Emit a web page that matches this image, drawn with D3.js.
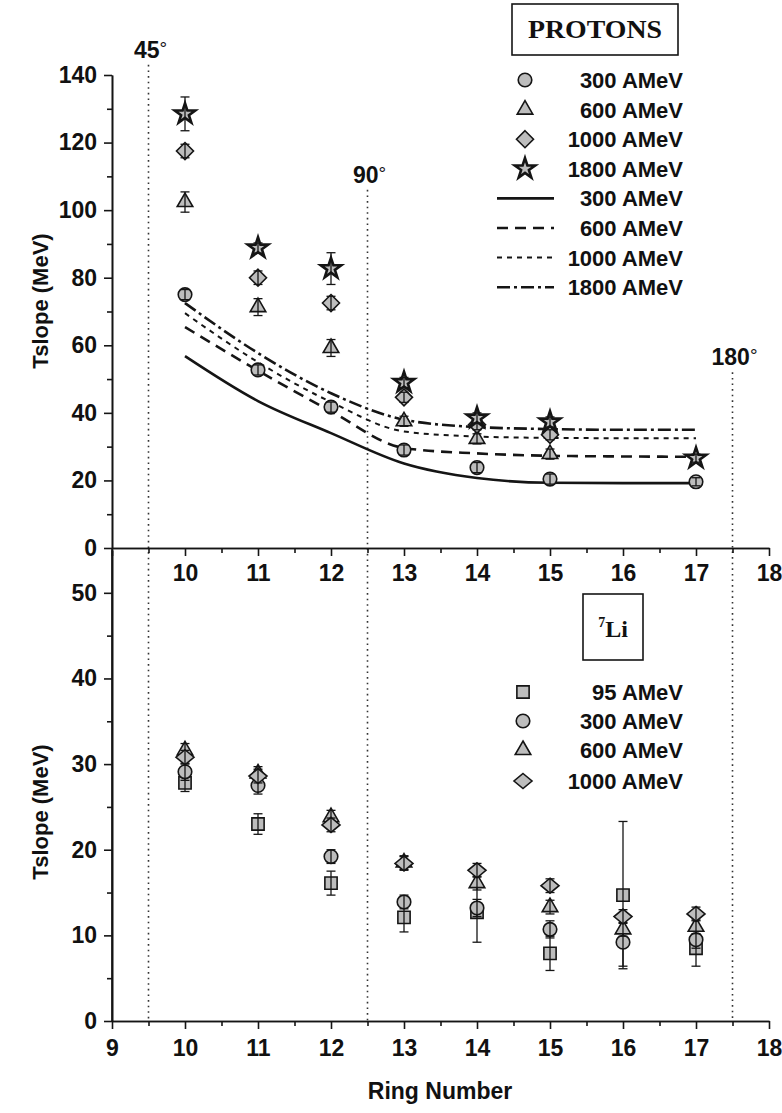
<!DOCTYPE html>
<html>
<head>
<meta charset="utf-8">
<script src="https://cdn.jsdelivr.net/npm/d3@7"></script>
<style>
body { margin: 0; background: #fff; }
svg text { font-family: "Liberation Sans", Arial, sans-serif; font-weight: bold; fill: #111; }
</style>
</head>
<body>
<svg id="chart" width="782" height="1113"></svg>
<script>
// ---- data ----
// protons, measured
var pRings300 = [10, 11, 12, 13, 14, 15, 17];
var p300 = [75, 52.7, 41.7, 29, 23.8, 20.4, 19.6];
var p300Err = [1.5, 1.5, 1.5, 1.5, 1.5, 1.5, 1.2];
var pRings600 = [10, 11, 12, 13, 14, 15];
var p600 = [102.4, 71.3, 59.2, 37.5, 32.3, 27.8];
var p600Err = [3, 2.5, 2.5, 1.5, 1.5, 1.5];
var pRings1000 = [10, 11, 12, 13, 14, 15];
var p1000 = [117.5, 80, 72.5, 44.6, 36.5, 33.5];
var p1000Err = [2, 2, 2, 1.5, 1.5, 1.5];
var pRings1800 = [10, 11, 12, 13, 14, 15, 17];
var p1800 = [128.5, 88.8, 82.7, 49, 38.5, 37.3, 26.6];
var p1800Err = [5, 1.5, 4.7, 1.5, 1.5, 1.5, 1.2];

// protons, calculation (lines)
var calcRings = [10, 11, 12, 13, 14, 15, 16, 17];
var calc300 = [56.8, 43.5, 34, 25, 20.7, 19.3, 19.2, 19.2];
var calc600 = [65.4, 52.5, 40.5, 29.6, 28, 27.3, 27.1, 27];
var calc1000 = [69.5, 55, 43.2, 34.5, 33, 32.6, 32.5, 32.5];
var calc1800 = [72.5, 57.7, 45.8, 38, 35.8, 35.2, 35, 35];

// 7Li
var liRings = [10, 11, 12, 13, 14, 15, 16, 17];
var li95 = [27.8, 23, 16.1, 12.1, 12.7, 7.9, 14.7, 8.5];
var li95Err = [1, 1.2, 1.4, 1.7, 3.5, 2, 8.6, 2.1];
var li300 = [29.1, 27.5, 19.2, 13.9, 13.2, 10.7, 9.2, 9.5];
var li300Err = [1, 1, 0.8, 0.8, 1, 1, 2.8, 1];
var li600 = [31.6, 28.9, 23.8, 18.5, 16.1, 13.3, 10.7, 11];
var li600Err = [0.8, 0.8, 0.8, 0.8, 0.8, 0.8, 0.8, 0.8];
var li1000 = [30.8, 28.6, 22.9, 18.4, 17.6, 15.8, 12.2, 12.5];
var li1000Err = [0.8, 0.8, 0.8, 0.8, 0.8, 0.8, 0.8, 0.8];

// axes
var xTicks = [9, 10, 11, 12, 13, 14, 15, 16, 17, 18];
var xMinor = [9.5, 10.5, 11.5, 12.5, 13.5, 14.5, 15.5, 16.5, 17.5];
var topYTicks = [0, 20, 40, 60, 80, 100, 120, 140];
var topYMinor = [10, 30, 50, 70, 90, 110, 130];
var botYTicks = [0, 10, 20, 30, 40, 50];
var botYMinor = [5, 15, 25, 35, 45];

// angle markers (ring, label, top of dotted line in proton-panel units)
var angleRings = [9.5, 12.5, 17.5];
var angleLabels = ["45", "90", "180"];
var angleTops = [143, 106, 52];

var protonLegend = ["300 AMeV", "600 AMeV", "1000 AMeV", "1800 AMeV"];
var liLegend = ["95 AMeV", "300 AMeV", "600 AMeV", "1000 AMeV"];

// ---- layout ----
var svg = d3.select("#chart");
var x = d3.scaleLinear().domain([9, 18]).range([112, 769]);
var yTop = d3.scaleLinear().domain([0, 140]).range([548, 75]);
var yBot = d3.scaleLinear().domain([0, 55]).range([1021, 550]);

var ink = "#151515";
var markFill = "#bdbdbd";

// symbols
var circleSym = d3.symbol().type(d3.symbolCircle).size(Math.PI * 46);
var triSym = d3.symbol().type(d3.symbolTriangle).size(105);
var starSym = d3.symbol().type(d3.symbolStar).size(130);
var squareSym = d3.symbol().type(d3.symbolSquare).size(150);
var diamondTop = "M0,-8.5L8.5,0L0,8.5L-8.5,0Z";
var diamondBot = "M0,-7.5L9,0L0,7.5L-9,0Z";

// dotted angle lines
angleRings.forEach(function (r, i) {
    svg.append("line")
        .attr("x1", x(r)).attr("x2", x(r))
        .attr("y1", yTop(angleTops[i])).attr("y2", yBot(0))
        .attr("stroke", "#333").attr("stroke-width", 1.6)
        .attr("stroke-dasharray", "1.6,4");
    var t = svg.append("text")
        .attr("x", x(r) + 2).attr("y", yTop(angleTops[i]) - 7)
        .attr("text-anchor", "middle")
        .style("font-size", "23px");
    t.append("tspan").text(angleLabels[i]);
    t.append("tspan").attr("dy", -3).style("font-size", "19px").style("font-weight", "normal").text("°");
});

// axes helper
function styleAxis(g) {
    g.selectAll("path, line").attr("stroke", ink).attr("stroke-width", 1.6);
    g.selectAll("text").style("font-size", "23px").attr("fill", ink);
}

// top panel y axis
svg.append("g").attr("transform", "translate(112,0)")
    .call(d3.axisLeft(yTop).tickValues(topYTicks).tickSize(8).tickPadding(7).tickSizeOuter(0))
    .call(styleAxis);
svg.append("g").attr("transform", "translate(112,0)")
    .call(d3.axisLeft(yTop).tickValues(topYMinor).tickSize(5).tickFormat("").tickSizeOuter(0))
    .call(styleAxis);
// top panel x axis
svg.append("g").attr("transform", "translate(0,548)")
    .call(d3.axisBottom(x).tickValues(xTicks).tickSize(8).tickPadding(9).tickSizeOuter(0)
        .tickFormat(function (d) { return d == 9 ? "" : d; }))
    .call(styleAxis);
svg.append("g").attr("transform", "translate(0,548)")
    .call(d3.axisBottom(x).tickValues(xMinor).tickSize(5).tickFormat("").tickSizeOuter(0))
    .call(styleAxis);

// bottom panel y axis
svg.append("g").attr("transform", "translate(112,0)")
    .call(d3.axisLeft(yBot).tickValues(botYTicks).tickSize(8).tickPadding(7).tickSizeOuter(0))
    .call(styleAxis);
svg.append("g").attr("transform", "translate(112,0)")
    .call(d3.axisLeft(yBot).tickValues(botYMinor).tickSize(5).tickFormat("").tickSizeOuter(0))
    .call(styleAxis);
svg.append("line").attr("x1", 112).attr("x2", 112).attr("y1", 548).attr("y2", 1021)
    .attr("stroke", ink).attr("stroke-width", 1.6);
// bottom panel x axis
svg.append("g").attr("transform", "translate(0,1021)")
    .call(d3.axisBottom(x).tickValues(xTicks).tickSize(8).tickPadding(11).tickSizeOuter(0))
    .call(styleAxis);
svg.append("g").attr("transform", "translate(0,1021)")
    .call(d3.axisBottom(x).tickValues(xMinor).tickSize(5).tickFormat("").tickSizeOuter(0))
    .call(styleAxis);

// axis titles
svg.append("text").attr("transform", "translate(48,301) rotate(-90)")
    .attr("text-anchor", "middle").style("font-size", "22px").text("Tslope (MeV)");
svg.append("text").attr("transform", "translate(48,812) rotate(-90)")
    .attr("text-anchor", "middle").style("font-size", "22px").text("Tslope (MeV)");
svg.append("text").attr("x", 440).attr("y", 1099)
    .attr("text-anchor", "middle").style("font-size", "23px").text("Ring Number");

// calculation lines
var dashes = [null, "11,7", "5,5", "13,4,3,4"];
var calcSets = [calc300, calc600, calc1000, calc1800];
var lineGen = d3.line().curve(d3.curveMonotoneX)
    .x(function (d) { return x(d[0]); })
    .y(function (d) { return yTop(d[1]); });
calcSets.forEach(function (vals, i) {
    svg.append("path")
        .attr("d", lineGen(calcRings.map(function (r, k) { return [r, vals[k]]; })))
        .attr("fill", "none").attr("stroke", ink)
        .attr("stroke-width", i == 2 ? 2 : 2.6)
        .attr("stroke-dasharray", dashes[i]);
});

// markers + error bars
function drawSeries(rings, vals, errs, yScale, shape, strokeW) {
    var g = svg.append("g");
    g.selectAll("path.m").data(rings).enter().append("path")
        .attr("class", "m")
        .attr("transform", function (r, k) { return "translate(" + x(r) + "," + yScale(vals[k]) + ")"; })
        .attr("d", shape)
        .attr("fill", markFill).attr("stroke", ink).attr("stroke-width", strokeW);
    rings.forEach(function (r, k) {
        var cx = x(r), lo = yScale(vals[k] - errs[k]), hi = yScale(vals[k] + errs[k]);
        g.append("line").attr("x1", cx).attr("x2", cx).attr("y1", lo).attr("y2", hi)
            .attr("stroke", ink).attr("stroke-width", 1.3);
        [lo, hi].forEach(function (yy) {
            g.append("line").attr("x1", cx - 4.5).attr("x2", cx + 4.5).attr("y1", yy).attr("y2", yy)
                .attr("stroke", ink).attr("stroke-width", 1.3);
        });
    });
}
drawSeries(pRings300, p300, p300Err, yTop, circleSym(), 1.6);
drawSeries(pRings600, p600, p600Err, yTop, triSym(), 1.6);
drawSeries(pRings1000, p1000, p1000Err, yTop, diamondTop, 1.6);
drawSeries(pRings1800, p1800, p1800Err, yTop, starSym(), 2.6);

drawSeries(liRings, li95, li95Err, yBot, squareSym(), 1.6);
drawSeries(liRings, li300, li300Err, yBot, circleSym(), 1.6);
drawSeries(liRings, li600, li600Err, yBot, triSym(), 1.6);
drawSeries(liRings, li1000, li1000Err, yBot, diamondBot, 1.6);

// ---- proton legend ----
svg.append("rect").attr("x", 512).attr("y", 4).attr("width", 166).attr("height", 51)
    .attr("fill", "none").attr("stroke", ink).attr("stroke-width", 1.6);
svg.append("text").attr("x", 595).attr("y", 38).attr("text-anchor", "middle")
    .style("font-family", "'Liberation Serif', 'Times New Roman', serif")
    .style("font-size", "25px").attr("textLength", 134).attr("lengthAdjust", "spacingAndGlyphs")
    .text("PROTONS");
var pShapes = [circleSym(), triSym(), diamondTop, starSym()];
var rowY = function (i) { return 80 + i * 29.6; };
protonLegend.forEach(function (lab, i) {
    svg.append("path").attr("transform", "translate(525," + rowY(i) + ")")
        .attr("d", pShapes[i]).attr("fill", markFill).attr("stroke", ink)
        .attr("stroke-width", i == 3 ? 2.6 : 1.6);
    svg.append("text").attr("x", 683).attr("y", rowY(i) + 8).attr("text-anchor", "end")
        .style("font-size", "22px").text(lab);
});
protonLegend.forEach(function (lab, i) {
    var yy = rowY(i + 4);
    svg.append("line").attr("x1", 497).attr("x2", 554).attr("y1", yy).attr("y2", yy)
        .attr("stroke", ink).attr("stroke-width", i == 2 ? 2 : 2.6)
        .attr("stroke-dasharray", dashes[i]);
    svg.append("text").attr("x", 683).attr("y", yy + 8).attr("text-anchor", "end")
        .style("font-size", "22px").text(lab);
});

// ---- 7Li legend ----
svg.append("rect").attr("x", 583).attr("y", 594).attr("width", 60).attr("height", 66)
    .attr("fill", "none").attr("stroke", ink).attr("stroke-width", 1.6);
var liTitle = svg.append("text").attr("x", 613).attr("y", 637).attr("text-anchor", "middle")
    .style("font-family", "'Liberation Serif', 'Times New Roman', serif");
liTitle.append("tspan").attr("dy", -10).style("font-size", "14px").text("7");
liTitle.append("tspan").attr("dy", 10).style("font-size", "24px").text("Li");
var liShapes = [squareSym(), circleSym(), triSym(), diamondBot];
var liRowY = [692, 721, 750, 781];
liLegend.forEach(function (lab, i) {
    svg.append("path").attr("transform", "translate(523," + liRowY[i] + ")")
        .attr("d", liShapes[i]).attr("fill", markFill).attr("stroke", ink).attr("stroke-width", 1.6);
    svg.append("text").attr("x", 683).attr("y", liRowY[i] + 8).attr("text-anchor", "end")
        .style("font-size", "22px").text(lab);
});
</script>
</body>
</html>
